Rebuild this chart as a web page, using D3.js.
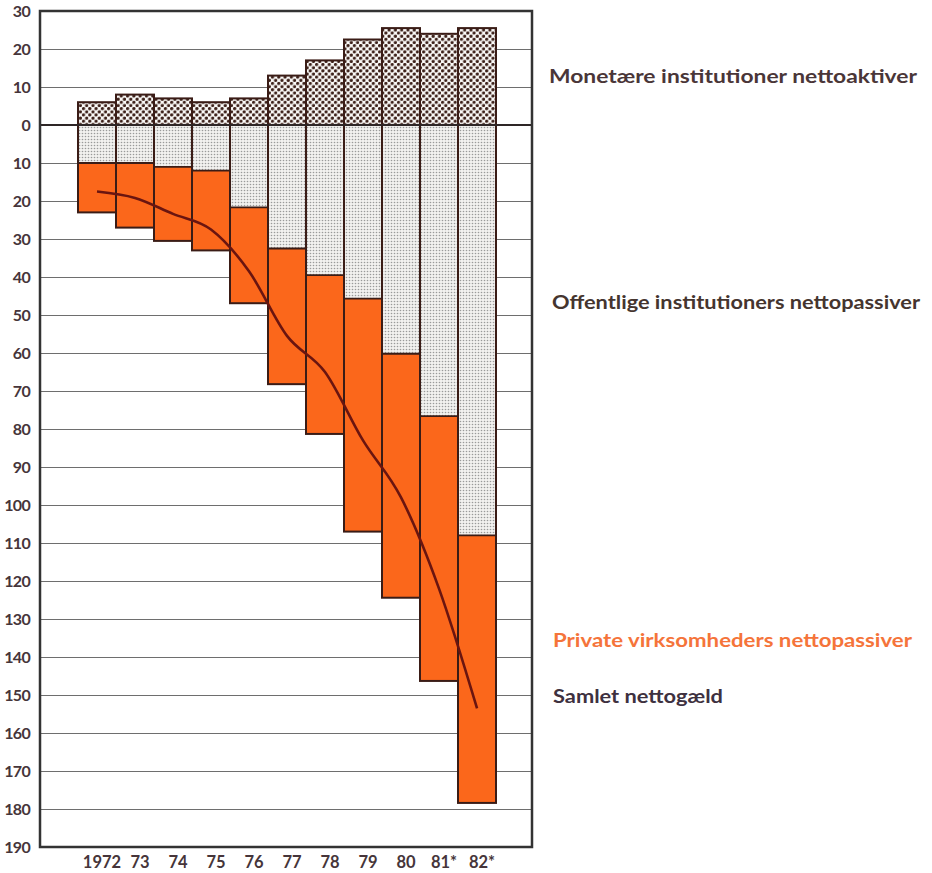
<!DOCTYPE html>
<html>
<head>
<meta charset="utf-8">
<script src="https://d3js.org/d3.v7.min.js"></script>
<style>
    body { margin: 0; background: #fff; }
    text { font-family: Lato, "Open Sans", sans-serif; font-weight: 700; }
</style>
</head>
<body>
<div></div>
<script>
// data (milliarder kr.)
let years = ["1972", "73", "74", "75", "76", "77", "78", "79", "80", "81*", "82*"]
let monetaere = [6, 8, 7, 6, 7, 13, 17, 22.5, 25.5, 24, 25.5]
let offentlige = [10, 10, 11, 12, 21.7, 32.5, 39.5, 45.7, 60.2, 76.6, 108]
let private_ = [13, 17, 19.5, 21, 25.2, 35.7, 41.8, 61.3, 64.2, 69.7, 70.4]
let samlet = [17.5, 19.2, 23.4, 27.5, 38.5, 55.5, 65, 83, 98, 122, 153.5]
let yTicks = d3.range(30, -191, -10)

let legend = [
    {label: "Monetære institutioner nettoaktiver", x: 549, y: 83, w: 368, color: "#4a3638"},
    {label: "Offentlige institutioners nettopassiver", x: 552, y: 309, w: 368, color: "#45352f"},
    {label: "Private virksomheders nettopassiver", x: 553, y: 647, w: 359, color: "#f5743a"},
    {label: "Samlet nettogæld", x: 553, y: 703, w: 170, color: "#3e3140"}
]

let W = 932, H = 873
let frame = {left: 40, right: 532, top: 11, bottom: 847}

let svg = d3.select("div")
    .append("svg")
    .attr("width", W)
    .attr("height", H)

let defs = svg.append("defs")

// coarse dots for the monetary bars
let p1 = defs.append("pattern")
    .attr("id", "dots")
    .attr("patternUnits", "userSpaceOnUse")
    .attr("width", 6.3).attr("height", 6.3)
p1.append("rect").attr("width", 6.3).attr("height", 6.3).attr("fill", "#fbfaf8")
p1.append("circle").attr("cx", 1.6).attr("cy", 1.6).attr("r", 1.65).attr("fill", "#3c2019")
p1.append("circle").attr("cx", 4.75).attr("cy", 4.75).attr("r", 1.65).attr("fill", "#3c2019")

// fine screen for the public bars
let p2 = defs.append("pattern")
    .attr("id", "fine")
    .attr("patternUnits", "userSpaceOnUse")
    .attr("width", 3).attr("height", 3)
p2.append("rect").attr("width", 3).attr("height", 3).attr("fill", "#f2f1ef")
p2.append("circle").attr("cx", 1.5).attr("cy", 1.5).attr("r", 0.8).attr("fill", "#9a9a9a")

let x = d3.scaleBand()
    .domain(years)
    .range([78, 496])
    .padding(0)

let y = d3.scaleLinear()
    .domain([30, -190])
    .range([frame.top, frame.bottom])

// gridlines
svg.append("g")
    .attr("transform", "translate(" + frame.left + ",0)")
    .call(d3.axisLeft(y).tickValues(yTicks).tickSize(-(frame.right - frame.left)).tickFormat(""))
    .call(g => g.select(".domain").remove())
    .call(g => g.selectAll("line").attr("stroke", "#6e6e6e").attr("stroke-width", 1.1))

// y labels
svg.append("g")
    .attr("transform", "translate(" + (frame.left - 7) + ",0)")
    .call(d3.axisLeft(y).tickValues(yTicks).tickSize(0).tickFormat(d => Math.abs(d)))
    .call(g => g.select(".domain").remove())
    .selectAll("text")
    .attr("fill", "#46353a")
    .style("font-size", "16px")
    .style("letter-spacing", "-0.7px")
    .attr("dy", "0.36em")

// stacked bars
let table = years.map((d, i) => ({year: d, mon: monetaere[i], off: offentlige[i], pri: private_[i]}))

let bars = svg.append("g")
bars.selectAll(".mon")
    .data(table)
    .enter()
    .append("rect")
    .attr("x", d => x(d.year))
    .attr("width", x.bandwidth())
    .attr("y", d => y(d.mon))
    .attr("height", d => y(0) - y(d.mon))
    .attr("fill", "url(#dots)")

bars.selectAll(".off")
    .data(table)
    .enter()
    .append("rect")
    .attr("x", d => x(d.year))
    .attr("width", x.bandwidth())
    .attr("y", y(0))
    .attr("height", d => y(-d.off) - y(0))
    .attr("fill", "url(#fine)")

bars.selectAll(".pri")
    .data(table)
    .enter()
    .append("rect")
    .attr("x", d => x(d.year))
    .attr("width", x.bandwidth())
    .attr("y", d => y(-d.off))
    .attr("height", d => y(-(d.off + d.pri)) - y(-d.off))
    .attr("fill", "#fb671b")

// outlines
bars.selectAll(".outline")
    .data(table)
    .enter()
    .append("rect")
    .attr("x", d => x(d.year))
    .attr("width", x.bandwidth())
    .attr("y", d => y(d.mon))
    .attr("height", d => y(-(d.off + d.pri)) - y(d.mon))
    .attr("fill", "none")
    .attr("stroke", "#3a1c16")
    .attr("stroke-width", 2)

bars.selectAll(".split")
    .data(table)
    .enter()
    .append("line")
    .attr("x1", d => x(d.year))
    .attr("x2", d => x(d.year) + x.bandwidth())
    .attr("y1", d => y(-d.off))
    .attr("y2", d => y(-d.off))
    .attr("stroke", "#3a1c16")
    .attr("stroke-width", 1.8)

// zero line
svg.append("line")
    .attr("x1", frame.left).attr("x2", frame.right)
    .attr("y1", y(0)).attr("y2", y(0))
    .attr("stroke", "#2e2626")
    .attr("stroke-width", 2)

// total net debt curve
let line = d3.line()
    .x((d, i) => x(years[i]) + x.bandwidth() / 2)
    .y(d => y(-d))
    .curve(d3.curveMonotoneX)

svg.append("path")
    .datum(samlet)
    .attr("d", line)
    .attr("fill", "none")
    .attr("stroke", "#6a1510")
    .attr("stroke-width", 2.6)

// frame
svg.append("rect")
    .attr("x", frame.left)
    .attr("y", frame.top)
    .attr("width", frame.right - frame.left)
    .attr("height", frame.bottom - frame.top)
    .attr("fill", "none")
    .attr("stroke", "#333")
    .attr("stroke-width", 2.5)

// x labels
svg.append("g")
    .attr("transform", "translate(5," + (frame.bottom + 21) + ")")
    .call(d3.axisBottom(x).tickSize(0))
    .call(g => g.select(".domain").remove())
    .selectAll("text")
    .attr("fill", "#46353a")
    .style("font-size", "16.5px")
    .attr("dy", 0)
    .attr("y", 0)

// labels on the right
svg.selectAll(".legend")
    .data(legend)
    .enter()
    .append("text")
    .attr("x", d => d.x)
    .attr("y", d => d.y)
    .attr("fill", d => d.color)
    .attr("textLength", d => d.w)
    .attr("lengthAdjust", "spacingAndGlyphs")
    .style("font-size", "18px")
    .text(d => d.label)
</script>
</body>
</html>
